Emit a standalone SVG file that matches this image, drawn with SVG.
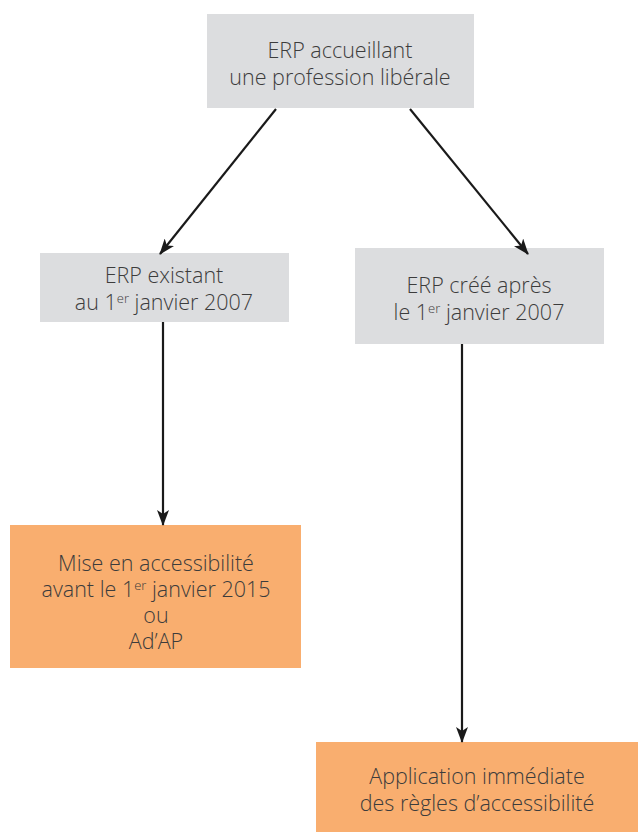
<svg xmlns="http://www.w3.org/2000/svg" width="638" height="833" viewBox="0 0 638 833">
<style>
.g{fill:#dcdddf}
.o{fill:#f9ae6f}
text{font-family:"Open Sans","Liberation Sans",sans-serif;font-weight:300;font-size:21.5px;fill:#3c3c3c;text-anchor:middle}
.sup{font-size:13px}
.c{stroke:#1a1a1a;stroke-width:2.2;fill:none;marker-end:url(#ah)}
</style>
<defs>
<marker id="ah" viewBox="0 0 16 12" refX="15" refY="6" markerWidth="16" markerHeight="12" markerUnits="userSpaceOnUse" orient="auto">
<path d="M0,0 L16,6 L0,12 L4,6 z" fill="#1a1a1a"/>
</marker>
</defs>
<rect width="638" height="833" fill="#fff"/>
<g id="n1">
<rect class="g" x="207" y="14" width="267" height="94"/>
<text x="340" y="58">ERP accueillant</text>
<text x="340" y="85">une profession libérale</text>
</g>
<g id="n2">
<rect class="g" x="40" y="253" width="249" height="69"/>
<text x="164" y="283">ERP existant</text>
<text x="164" y="310">au 1<tspan class="sup" dy="-7">er</tspan><tspan dy="7"> janvier 2007</tspan></text>
</g>
<g id="n3">
<rect class="g" x="355" y="248" width="249" height="96"/>
<text x="479" y="293">ERP créé après</text>
<text x="479" y="320">le 1<tspan class="sup" dy="-7">er</tspan><tspan dy="7"> janvier 2007</tspan></text>
</g>
<g id="n4">
<rect class="o" x="10" y="525" width="291" height="143"/>
<text x="156" y="571">Mise en accessibilité</text>
<text x="156" y="597">avant le 1<tspan class="sup" dy="-7">er</tspan><tspan dy="7"> janvier 2015</tspan></text>
<text x="156" y="623">ou</text>
<text x="156" y="649">Ad’AP</text>
</g>
<g id="n5">
<rect class="o" x="316" y="742" width="322" height="90"/>
<text x="477" y="784">Application immédiate</text>
<text x="477" y="811">des règles d’accessibilité</text>
</g>
<g id="connectors">
<line class="c" x1="276" y1="109" x2="160" y2="254"/>
<line class="c" x1="410" y1="109" x2="528" y2="254"/>
<line class="c" x1="163" y1="322" x2="163" y2="525"/>
<line class="c" x1="462" y1="344" x2="462" y2="742"/>
</g>
</svg>
